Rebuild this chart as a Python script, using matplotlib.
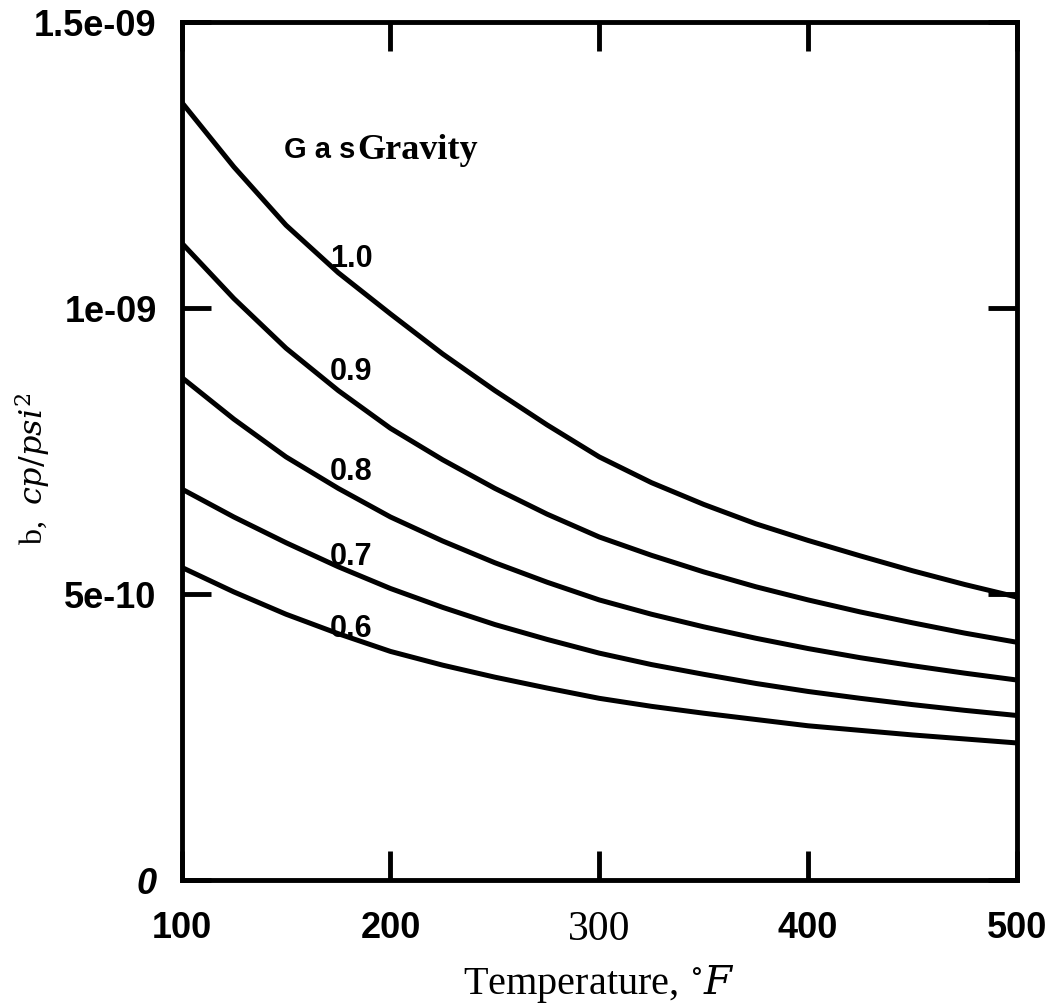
import matplotlib
matplotlib.use("Agg")
import matplotlib.pyplot as plt

plt.rcParams["mathtext.fontset"] = "dejavuserif"

# temperature, deg F
temp = [100, 125, 150, 175, 200, 225, 250, 275, 300, 325, 350, 375, 400, 425, 450, 475, 500]

# b, cp/psi^2 (x 1e-9) for each gas gravity
b_10 = [1.360, 1.247, 1.145, 1.062, 0.990, 0.920, 0.856, 0.796, 0.740, 0.695, 0.657, 0.623, 0.594, 0.567, 0.541, 0.517, 0.495]
b_09 = [1.114, 1.017, 0.930, 0.856, 0.790, 0.735, 0.685, 0.640, 0.600, 0.568, 0.539, 0.513, 0.490, 0.469, 0.450, 0.432, 0.416]
b_08 = [0.879, 0.806, 0.740, 0.685, 0.635, 0.593, 0.555, 0.521, 0.490, 0.465, 0.443, 0.423, 0.405, 0.389, 0.375, 0.362, 0.350]
b_07 = [0.684, 0.635, 0.590, 0.548, 0.510, 0.477, 0.447, 0.421, 0.397, 0.377, 0.360, 0.344, 0.330, 0.318, 0.307, 0.297, 0.288]
b_06 = [0.547, 0.504, 0.465, 0.431, 0.400, 0.376, 0.355, 0.336, 0.318, 0.304, 0.292, 0.281, 0.270, 0.262, 0.254, 0.247, 0.240]

curves = [b_10, b_09, b_08, b_07, b_06]
gravity_labels = ["1.0", "0.9", "0.8", "0.7", "0.6"]
label_t = 171
label_b = [1.086, 0.888, 0.713, 0.565, 0.44]

xticks = [100, 200, 300, 400, 500]
xtick_labels = ["100", "200", "300", "400", "500"]
yticks = [0, 5e-10, 1e-9, 1.5e-9]
ytick_labels = ["0", "5e-10", "1e-09", "1.5e-09"]

narrow = ["Liberation Sans Narrow", "Liberation Sans", "DejaVu Sans"]
sans = ["Liberation Sans", "DejaVu Sans"]
serif = ["Liberation Serif", "DejaVu Serif"]

fig = plt.figure(figsize=(10.56, 10.06), dpi=100)
ax = fig.add_axes([0.172, 0.125, 0.791, 0.853])

for b in curves:
    ax.plot(temp, [v * 1e-9 for v in b], color="black", lw=3.6,
            solid_capstyle="butt", solid_joinstyle="round")

for lab, yb in zip(gravity_labels, label_b):
    ax.text(label_t, yb * 1e-9, lab, fontsize=22, fontweight="bold", family=sans,
            ha="left", va="center")

ax.text(149, 1.276e-9, "G a s", fontsize=21, fontweight="bold", family=narrow,
        ha="left", va="center")
ax.text(184, 1.276e-9, "Gravity", fontsize=26, fontweight="bold", family=serif,
        ha="left", va="center")

ax.set_xlim(100, 500)
ax.set_ylim(0, 1.5e-9)

for s in ax.spines.values():
    s.set_linewidth(3.5)

ax.set_xticks(xticks)
ax.set_xticklabels(xtick_labels)
ax.set_yticks(yticks)
ax.set_yticklabels(ytick_labels)
ax.tick_params(direction="in", length=21, width=3.5, top=True, right=True,
               labelsize=26)
ax.tick_params(axis="x", pad=22)
ax.tick_params(axis="y", pad=18)

for lbl in ax.get_xticklabels():
    if lbl.get_text() == "300":
        lbl.set_family(serif)
        lbl.set_fontweight("normal")
        lbl.set_fontsize(30)
    else:
        lbl.set_family(narrow)
        lbl.set_fontweight("bold")
for lbl in ax.get_yticklabels():
    lbl.set_family(narrow)
    lbl.set_fontweight("bold")
    if lbl.get_text() == "0":
        lbl.set_fontstyle("italic")

ax.set_xlabel("Temperature, $^{\\circ}F$", fontsize=29, family=serif, labelpad=10)
ax.set_ylabel("b,  $cp/psi^2$", fontsize=23, family=serif)
ax.yaxis.set_label_coords(-0.155, 0.48)

fig.savefig("out.png", dpi=100)
